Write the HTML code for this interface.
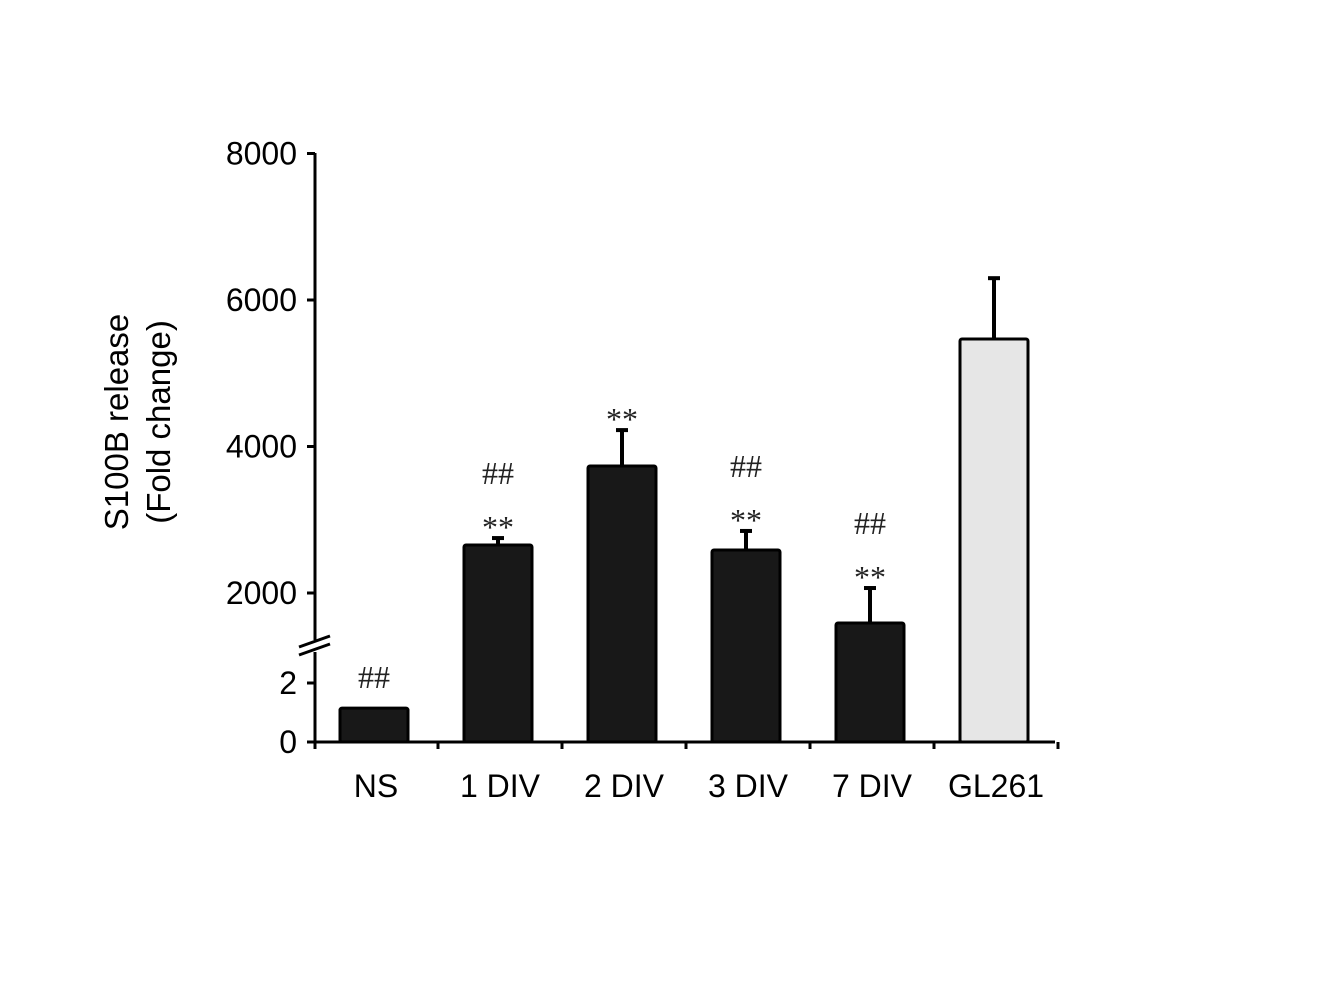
<!DOCTYPE html>
<html><head><meta charset="utf-8"><style>
html,body{margin:0;padding:0;background:#fff;}
svg text{font-family:"Liberation Sans",Arial,sans-serif;}
</style></head><body>
<svg width="1320" height="1000" viewBox="0 0 1320 1000" xmlns="http://www.w3.org/2000/svg">
<g id="plot"></g>
</svg>
<script>
const categories = ["NS","1 DIV","2 DIV","3 DIV","7 DIV","GL261"];
const values = [1.15, 2655, 3734, 2587, 1590, 5468];
const errors = [0, 95, 490, 260, 478, 830];
const lowScale = [true, false, false, false, false, false];
const annotations = [["##"],["##","**"],["**"],["##","**"],["##","**"],[]];
const upperTicks = [2000, 4000, 6000, 8000];
const lowerTicks = [0, 2];

const NS = "http://www.w3.org/2000/svg";
const g = document.getElementById('plot');
const axisX = 315, baseY = 742, xEnd = 1055;
function yUpper(v){ return 593 - (v - 2000) * (146.5 / 2000); }
function yLower(v){ return 742 - v * 29.5; }
function yVal(i, v){ return lowScale[i] ? yLower(v) : yUpper(v); }
const slotW = 124, firstSlot = 315;
function xCenter(i){ return firstSlot + slotW * i + 59; }
const barW = 68;
function mk(tag, attrs){ const e = document.createElementNS(NS, tag); for (const k in attrs) e.setAttribute(k, attrs[k]); g.appendChild(e); return e; }

categories.forEach((c, i) => {
  const cx = xCenter(i), top = yVal(i, values[i]);
  if (errors[i] > 0) {
    const et = yVal(i, values[i] + errors[i]);
    const l = mk('line', {x1: cx, x2: cx, y1: top, y2: et, stroke: '#000', 'stroke-width': 4});
    
    
    const cap = mk('line', {x1: cx - 6, x2: cx + 6, y1: et, y2: et, stroke: '#000', 'stroke-width': 4});
    
    
  }
  const r = mk('rect', {x: cx - barW / 2, y: top, width: barW, height: baseY - top,
    fill: i === 5 ? '#e6e6e6' : '#181818', stroke: '#000', 'stroke-width': 3, rx: 2});
  
  
  const ann = annotations[i];
  const annTop = (errors[i] > 0 ? yVal(i, values[i] + errors[i]) : top);
  ann.forEach((a, k) => {
    const y = annTop - (a === '**' ? 0 : 10) - (ann.length - 1 - k) * 34 + (a === '**' ? 10 : 0) - 10;
    const t = mk('text', {x: cx, y: y, 'text-anchor': 'middle', 'font-size': 32, fill: '#222', style: 'font-family:"Liberation Serif",serif'});
    t.textContent = a;
    
    
  });
  const xl = mk('text', {x: cx + 2, y: 797, 'text-anchor': 'middle', 'font-size': 32, fill: '#000'});
  xl.textContent = c;
  
  
  const tk = mk('line', {x1: firstSlot + slotW * (i + 1) - 1, x2: firstSlot + slotW * (i + 1) - 1, y1: baseY, y2: baseY + 7, stroke: '#000', 'stroke-width': 3});
  
  
});

const ya = mk('line', {x1: axisX, x2: axisX, y1: 153, y2: baseY + 7, stroke: '#000', 'stroke-width': 3});


const xa = mk('line', {x1: axisX, x2: xEnd, y1: baseY, y2: baseY, stroke: '#000', 'stroke-width': 3});


const wb = mk('rect', {x: 300, y: 640, width: 30, height: 12, fill: '#fff'});


[0, 8].forEach(d => {
  const b = mk('line', {x1: 299, x2: 330, y1: 655 + d - 8, y2: 644 + d - 8, stroke: '#000', 'stroke-width': 3});
  
  
});
upperTicks.forEach(v => {
  const y = yUpper(v);
  const t = mk('line', {x1: axisX - 8, x2: axisX, y1: y, y2: y, stroke: '#000', 'stroke-width': 3});
  
  
  const l = mk('text', {x: 297, y: y + 11, 'text-anchor': 'end', 'font-size': 32, fill: '#000'});
  l.textContent = v;
  
  
});
lowerTicks.forEach(v => {
  const y = yLower(v);
  const t = mk('line', {x1: axisX - 8, x2: axisX, y1: y, y2: y, stroke: '#000', 'stroke-width': 3});
  
  
  const l = mk('text', {x: 297, y: y + 11, 'text-anchor': 'end', 'font-size': 32, fill: '#000'});
  l.textContent = v;
  
  
});
const yt = mk('text', {transform: 'translate(0,0)', 'text-anchor': 'middle', 'font-size': 33, fill: '#000'});


const t1 = document.createElementNS(NS, 'tspan'); t1.setAttribute('x', 0); t1.setAttribute('y', 0); t1.textContent = 'S100B release';
const t2 = document.createElementNS(NS, 'tspan'); t2.setAttribute('x', 0); t2.setAttribute('y', 42); t2.textContent = '(Fold change)';
yt.appendChild(t1); yt.appendChild(t2);
yt.setAttribute('transform', 'translate(128,422) rotate(-90)');
</script>
</body></html>
